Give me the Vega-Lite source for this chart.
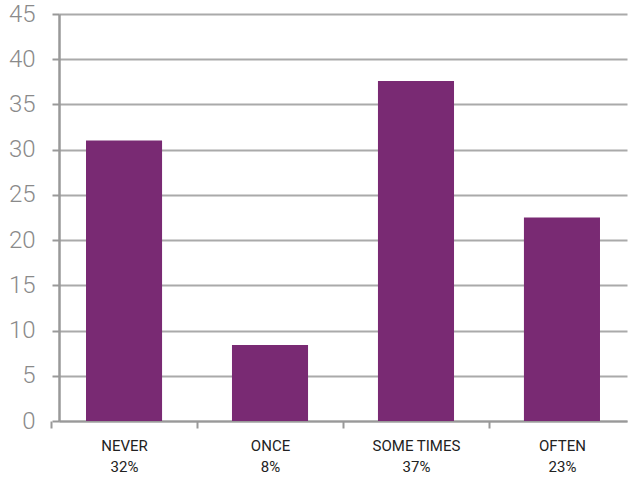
{
  "$schema": "https://vega.github.io/schema/vega-lite/v6.json",
  "autosize": "none",
  "width": 575,
  "height": 407,
  "padding": {"left": 59, "top": 14, "right": 0, "bottom": 57},
  "background": "white",
  "data": {
    "values": [
      {"category": "NEVER|32%", "value": 31.0},
      {"category": "ONCE|8%", "value": 8.4},
      {"category": "SOME TIMES|37%", "value": 37.6},
      {"category": "OFTEN|23%", "value": 22.5}
    ]
  },
  "mark": {"type": "bar", "color": "#792A73"},
  "encoding": {
    "x": {
      "field": "category",
      "type": "nominal",
      "sort": null,
      "scale": {"paddingInner": 0.479, "paddingOuter": 0.185, "range": [0, 568]},
      "axis": {
        "title": null,
        "labelAngle": 0,
        "labelExpr": "split(datum.label, '|')",
        "labelFont": "Roboto",
        "labelFontSize": 15,
        "labelColor": "#222222",
        "labelLineHeight": 21,
        "labelPadding": 10,
        "tickOffset": -73,
        "labelOffset": 73,
        "tickColor": "#999999",
        "tickWidth": 2,
        "tickSize": 7,
        "domainColor": "#999999",
        "domainWidth": 2,
        "grid": false
      }
    },
    "y": {
      "field": "value",
      "type": "quantitative",
      "scale": {"domain": [0, 45], "nice": false},
      "axis": {
        "title": null,
        "values": [0, 5, 10, 15, 20, 25, 30, 35, 40, 45],
        "labelFont": "Roboto",
        "labelFontWeight": 300,
        "labelFontSize": 24,
        "labelColor": "#8a8a8a",
        "labelPadding": 17,
        "tickColor": "#999999",
        "tickWidth": 2,
        "tickSize": 7,
        "domainColor": "#999999",
        "domainWidth": 2.5,
        "grid": true,
        "gridColor": "#aaaaaa",
        "gridWidth": 2
      }
    }
  },
  "config": {"view": {"stroke": null}}
}
